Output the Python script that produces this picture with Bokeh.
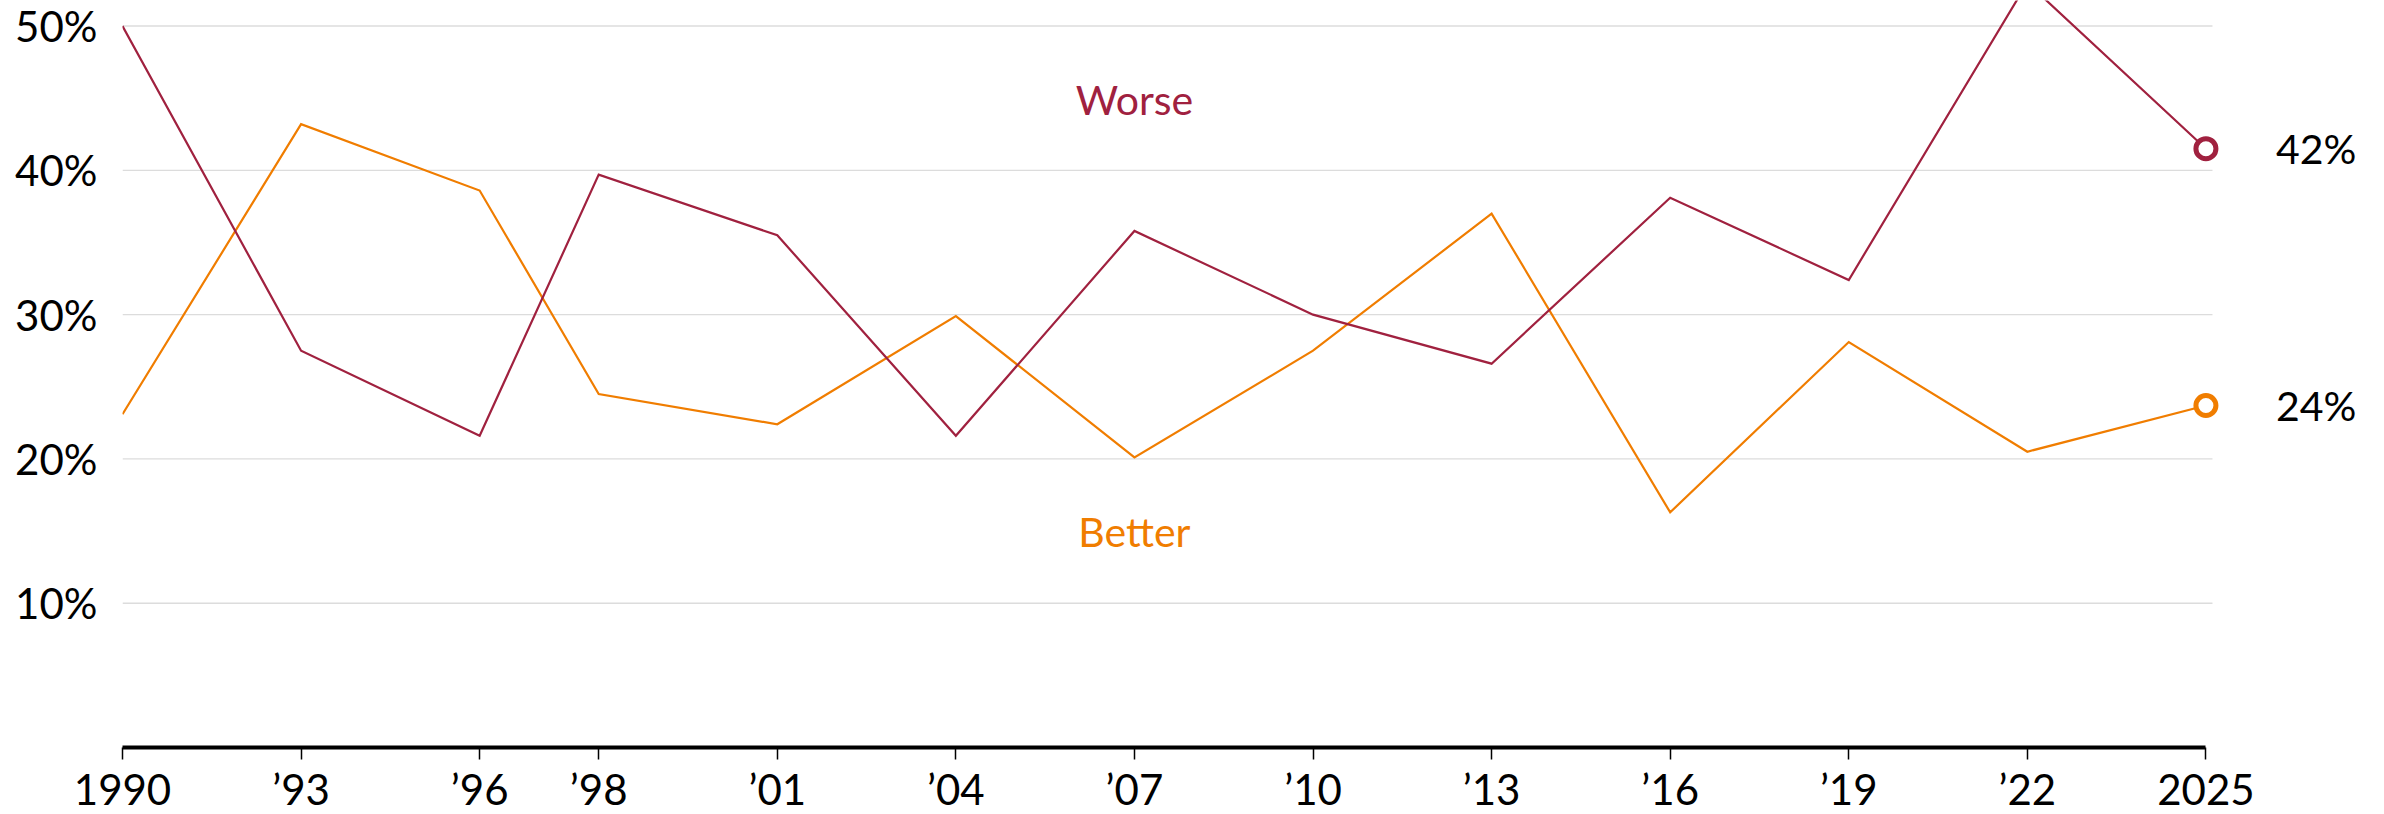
from bokeh.plotting import figure
from bokeh.models import Range1d, FixedTicker, Label
from bokeh.embed import file_html
from bokeh.resources import INLINE

# ---- data ----
years = [1990, 1993, 1996, 1998, 2001, 2004, 2007, 2010, 2013, 2016, 2019, 2022, 2025]
tick_labels = ["1990", "\u201993", "\u201996", "\u201998", "\u201901", "\u201904", "\u201907",
               "\u201910", "\u201913", "\u201916", "\u201919", "\u201922", "2025"]
worse = [50.0, 27.5, 21.6, 39.7, 35.5, 21.6, 35.8, 30.0, 26.6, 38.1, 32.4, 53.0, 41.5]
better = [23.1, 43.2, 38.6, 24.5, 22.4, 29.9, 20.1, 27.5, 37.0, 16.3, 28.1, 20.5, 23.7]
y_ticks = [10, 20, 30, 40, 50]
y_tick_labels = ["10%", "20%", "30%", "40%", "50%"]
end_labels = ["42%", "24%"]
series_names = ["Worse", "Better"]

# ---- style ----
WORSE_C = "#A0213F"
BETTER_C = "#F07D00"
GRID_C = "#DCDCDC"
FONT = "Lato"
FS = "42px"

p = figure(frame_width=2262, frame_height=747,
           x_range=Range1d(1990, 2028.0), y_range=Range1d(0, 51.77),
           output_backend="svg", toolbar_location=None,
           min_border_left=122, min_border_right=0, min_border_top=0, min_border_bottom=0)
p.outline_line_color = None
p.xgrid.visible = False
p.ygrid.visible = False

# gridlines (limited to the data span)
p.segment(x0=years[0], x1=years[-1] + 0.11, y0=y_ticks, y1=y_ticks,
          line_color=GRID_C, line_width=1.4)

# x axis
xa = p.xaxis[0]
xa.ticker = FixedTicker(ticks=years)
xa.major_label_overrides = {y: t for y, t in zip(years, tick_labels)}
xa.bounds = (years[0], years[-1])
xa.axis_line_width = 4
xa.axis_line_color = "black"
xa.major_tick_line_color = "black"
xa.major_tick_line_width = 1.5
xa.major_tick_in = 0
xa.major_tick_out = 12
xa.minor_tick_line_color = None
xa.major_label_standoff = 4
xa.major_label_text_font = FONT
xa.major_label_text_font_size = FS
xa.major_label_text_color = "black"

# y axis
ya = p.yaxis[0]
ya.ticker = FixedTicker(ticks=y_ticks)
ya.major_label_overrides = {y: t for y, t in zip(y_ticks, y_tick_labels)}
ya.axis_line_color = None
ya.major_tick_line_color = None
ya.minor_tick_line_color = None
ya.major_tick_out = 0
ya.major_tick_in = 0
ya.major_label_standoff = 25
ya.major_label_text_font = FONT
ya.major_label_text_font_size = FS
ya.major_label_text_color = "black"

# lines
p.line(years, better, line_color=BETTER_C, line_width=2.2, line_join="miter")
p.line(years, worse, line_color=WORSE_C, line_width=2.2, line_join="miter")

# end markers
p.scatter([years[-1]], [worse[-1]], size=20, line_width=5, fill_color="white", line_color=WORSE_C)
p.scatter([years[-1]], [better[-1]], size=20, line_width=5, fill_color="white", line_color=BETTER_C)

# end labels
for val, txt in zip([worse[-1], better[-1]], end_labels):
    p.add_layout(Label(x=years[-1], y=val, text=txt, x_offset=70,
                       text_baseline="middle", text_align="left",
                       text_font=FONT, text_font_size="41px", text_color="black"))

# series labels
p.add_layout(Label(x=2007, y=44.9, text=series_names[0], text_align="center",
                   text_baseline="middle", text_font=FONT, text_font_size="41px",
                   text_color=WORSE_C))
p.add_layout(Label(x=2007, y=15.0, text=series_names[1], text_align="center",
                   text_baseline="middle", text_font=FONT, text_font_size="41px",
                   text_color=BETTER_C))

open("out.html", "w").write(file_html(p, INLINE))
